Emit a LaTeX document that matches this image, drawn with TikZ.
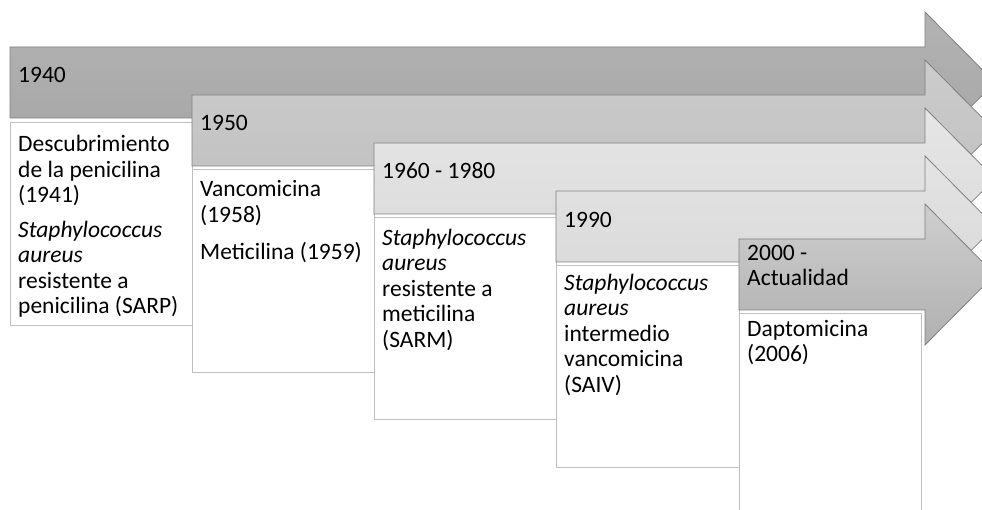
\documentclass[tikz,border=0pt]{standalone}
\usepackage{fontspec}
\setmainfont{Carlito}
\usepackage{tikz}
\usetikzlibrary{positioning}

\definecolor{barline}{HTML}{808080}
\definecolor{boxline}{HTML}{BFBFBF}
\newcommand{\tlfont}{\fontsize{23.5}{25.5}\selectfont}

\begin{document}
\begin{tikzpicture}[x=1pt,y=-1pt,
  bar/.style={draw=barline,line width=0.8pt,line join=miter},
  box/.style={draw=boxline,fill=white,line width=0.8pt},
  lbl/.style={anchor=north west,inner sep=0pt,align=left,font=\tlfont},
  txt/.style={anchor=north west,inner sep=0pt,align=left,font=\tlfont}]
\useasboundingbox (0,0) rectangle (982,510);
\clip (0,0) rectangle (982,510);
% 1940
\shadedraw[bar,top color=black!30,bottom color=black!35] (10,47) -- (925,47) -- (925,12) -- (995,82.5) -- (925,153) -- (925,118) -- (10,118) -- cycle;
\node[lbl] (l1940) at (18,64.9) {\strut 1940};
\draw[box] (10,122) rectangle (192,325);
\node[txt] (t1940) at (18,133.8) {\strut Descubrimiento\\de la penicilina\\(1941)\\[9pt]
  \textit{Staphylococcus}\\\textit{aureus}\\resistente a\\penicilina (SARP)};
% 1950
\shadedraw[bar,top color=black!20,bottom color=black!25] (192,95) -- (925,95) -- (925,60) -- (995,130.5) -- (925,201) -- (925,166) -- (192,166) -- cycle;
\node[lbl] (l1950) at (200,112.2) {\strut 1950};
\draw[box] (192,169) rectangle (374,372);
\node[txt] (t1950) at (200,178.8) {\strut Vancomicina\\(1958)\\[12pt]Meticilina (1959)};
% 1960 - 1980
\shadedraw[bar,top color=black!10,bottom color=black!14] (374,143) -- (925,143) -- (925,108) -- (995,178.5) -- (925,249) -- (925,214) -- (374,214) -- cycle;
\node[lbl] (l1960) at (382,160.2) {\strut 1960 - 1980};
\draw[box] (374,217) rectangle (556,419);
\node[txt] (t1960) at (382,227.1) {\strut \textit{Staphylococcus}\\\textit{aureus}\\resistente a\\meticilina\\(SARM)};
% 1990
\shadedraw[bar,top color=black!11,bottom color=black!15] (556,191) -- (925,191) -- (925,156) -- (995,226.5) -- (925,297) -- (925,262) -- (556,262) -- cycle;
\node[lbl] (l1990) at (564,209.2) {\strut 1990};
\draw[box] (556,265) rectangle (739,467);
\node[txt] (t1990) at (564,272.1) {\strut \textit{Staphylococcus}\\\textit{aureus}\\intermedio\\vancomicina\\(SAIV)};
% 2000 - Actualidad
\shadedraw[bar,top color=black!19,bottom color=black!31] (739,239) -- (925,239) -- (925,204) -- (995,274.5) -- (925,345) -- (925,310) -- (739,310) -- cycle;
\node[lbl] (l2000) at (747,242.2) {\strut 2000 -\\Actualidad};
\draw[box] (739,313) rectangle (921,515);
\node[txt] (t2000) at (747,318.1) {\strut Daptomicina\\(2006)};
\end{tikzpicture}
\end{document}
